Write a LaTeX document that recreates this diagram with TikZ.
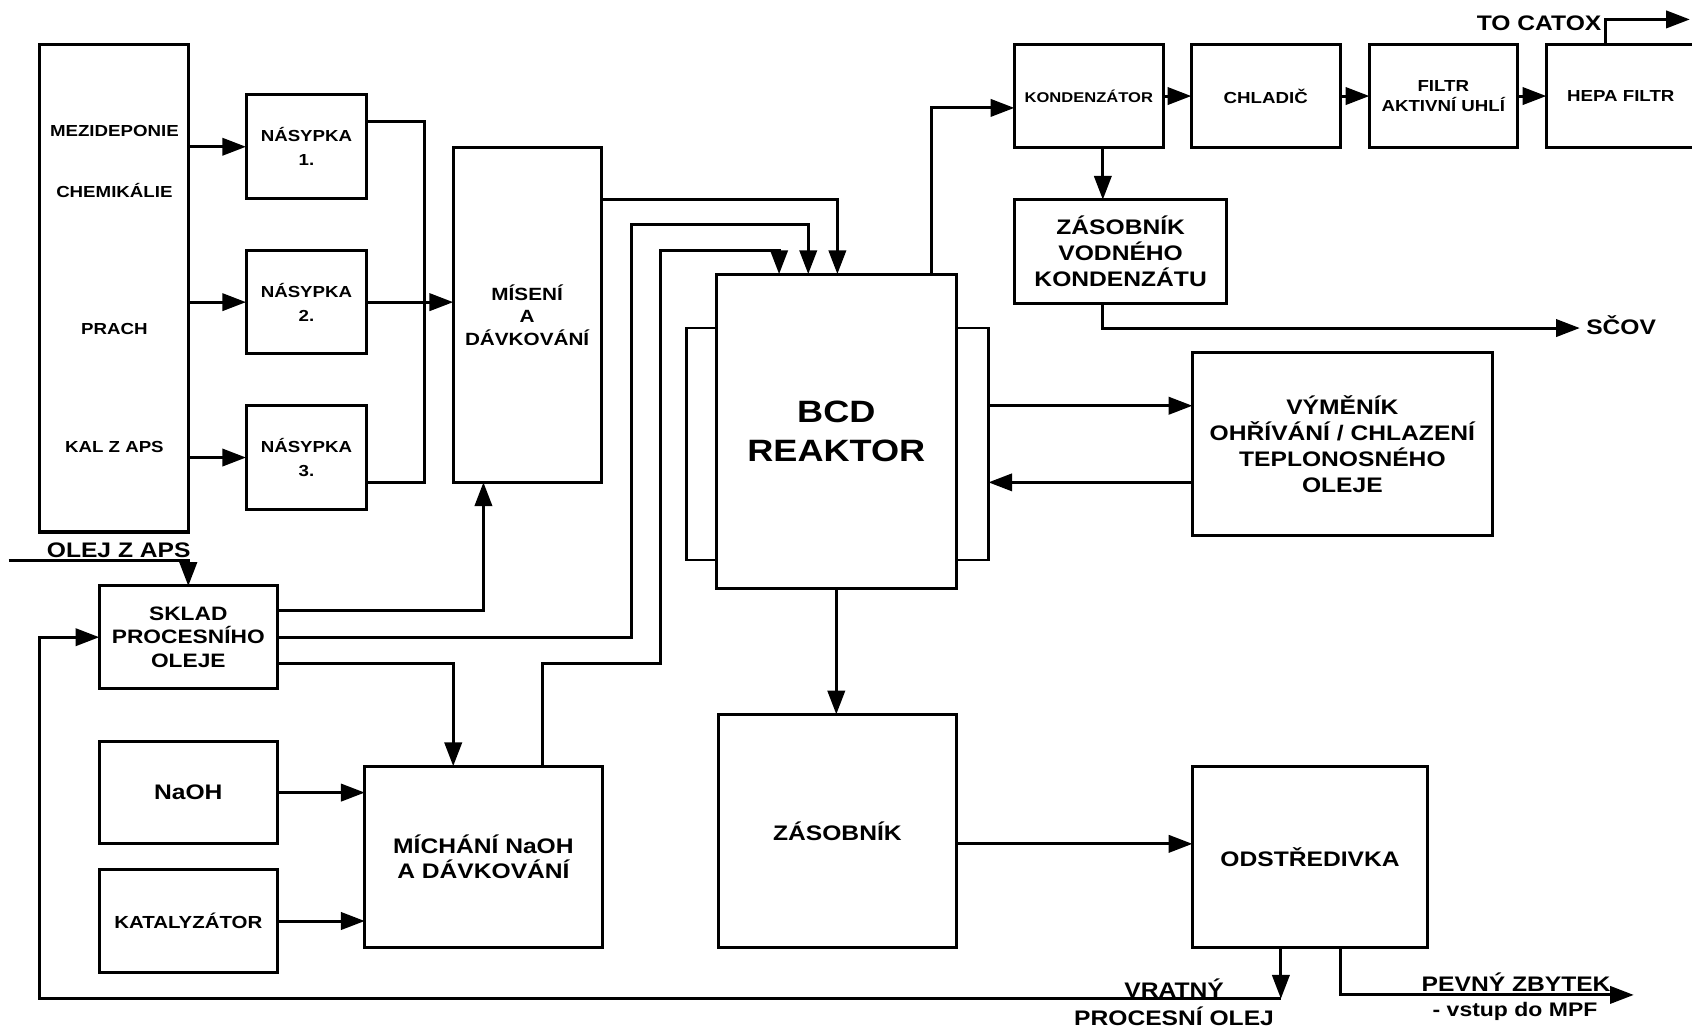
\documentclass[tikz,border=0pt]{standalone}
\usepackage{fontspec}
\newfontfamily\dfont{Liberation Sans}[FakeStretch=1.17]
\usetikzlibrary{arrows.meta}
\newcommand\setfs[2]{\fontsize{#1}{#2}\selectfont}
\tikzset{
  box/.style={draw, line width=2.8pt, inner sep=0pt, outer sep=0pt, align=center, text=black},
  jack/.style={draw, line width=2.6pt, inner sep=0pt, outer sep=0pt},
  lbl/.style={inner sep=0pt, outer sep=0pt, text=black},
  fsS/.style={font=\dfont\bfseries\setfs{14.8}{22}},
  fsF/.style={font=\dfont\bfseries\setfs{14.8}{19}},
  fsK/.style={font=\dfont\bfseries\setfs{13.1}{16}},
  fsM/.style={font=\dfont\bfseries\setfs{16.4}{21}},
  fsT/.style={font=\dfont\bfseries\setfs{16.2}{20}},
  fsSK/.style={font=\dfont\bfseries\setfs{18}{22}},
  fsL/.style={font=\dfont\bfseries\setfs{19.5}{24}},
  fsV/.style={font=\dfont\bfseries\setfs{18.2}{22}},
  fsB/.style={font=\dfont\bfseries\setfs{28.6}{36}},
  ln/.style={line width=2.8pt},
  arr/.style={line width=2.8pt, -{Triangle[length=22pt,width=16pt]}},
}
\begin{document}
\begin{tikzpicture}[x=1pt, y=-1pt]
\path[fill=white] (0,0) rectangle (1568,951);
\useasboundingbox (0,0) rectangle (1568,951);

% left column
\node[box, minimum width=138pt, minimum height=452pt] (src) at (106,267) {};
\node[lbl, fsS, anchor=base] (tmez) at (106,126.8) {MEZIDEPONIE};
\node[lbl, fsS, anchor=base] (tchem) at (106,182.8) {CHEMIKÁLIE};
\node[lbl, fsS, anchor=base] (tprach) at (106,309.8) {PRACH};
\node[lbl, fsS, anchor=base] (tkal) at (106,419.3) {KAL Z APS};

\node[box, fsS, minimum width=112pt, minimum height=96pt] (n1) at (284,136) {NÁSYPKA\\1.};
\node[box, fsS, minimum width=112pt, minimum height=96pt] (n2) at (284,280) {NÁSYPKA\\2.};
\node[box, fsS, minimum width=112pt, minimum height=96pt] (n3) at (284,424) {NÁSYPKA\\3.};

\node[box, fsM, minimum width=137pt, minimum height=310pt] (mis) at (488.5,292) {MÍSENÍ\\A\\DÁVKOVÁNÍ};

\node[box, fsSK, minimum width=165pt, minimum height=95pt] (sklad) at (174.5,590.5) {SKLAD\\PROCESNÍHO\\OLEJE};
\node[box, fsL, minimum width=165pt, minimum height=95pt] (naoh) at (174.5,734.5) {NaOH};
\node[box, fsT, minimum width=165pt, minimum height=95pt] (kat) at (174.5,853.5) {KATALYZÁTOR};
\node[box, fsL, minimum width=220pt, minimum height=168pt] (mich) at (448,794) {MÍCHÁNÍ NaOH\\A DÁVKOVÁNÍ};

% reactor
\node[jack, minimum width=28pt, minimum height=215pt] (jl) at (650,411.5) {};
\node[jack, minimum width=30pt, minimum height=215pt] (jr) at (901,411.5) {};
\node[box, fsB, fill=white, minimum width=222pt, minimum height=291pt] (reak) at (775,399.5) {BCD\\REAKTOR};

\node[box, fsL, minimum width=220pt, minimum height=216pt] (zas) at (776,770) {ZÁSOBNÍK};
\node[box, fsL, minimum width=218pt, minimum height=168pt] (ods) at (1214,794) {ODSTŘEDIVKA};
\node[box, fsL, minimum width=278pt, minimum height=169pt] (vym) at (1244,411.5) {VÝMĚNÍK\\OHŘÍVÁNÍ / CHLAZENÍ\\TEPLONOSNÉHO\\OLEJE};

% top chain
\node[box, fsK, minimum width=138pt, minimum height=96pt] (kon) at (1009,89) {KONDENZÁTOR};
\node[box, fsS, minimum width=138pt, minimum height=96pt] (chl) at (1173,89) {CHLADIČ};
\node[box, fsF, minimum width=137pt, minimum height=96pt] (fil) at (1337.5,89) {FILTR\\AKTIVNÍ UHLÍ};
\node[box, fsS, minimum width=138pt, minimum height=96pt] (hepa) at (1502,89) {HEPA FILTR};
\node[box, fsL, minimum width=197pt, minimum height=96pt] (zvk) at (1038.5,233) {ZÁSOBNÍK\\VODNÉHO\\KONDENZÁTU};

% free labels
\node[lbl, fsL, anchor=base east] (tcat) at (1484,28) {TO CATOX};
\node[lbl, fsL, anchor=base west] (tscov) at (1470,310) {SČOV};
\node[lbl, fsL, anchor=base] (tolej) at (110,517) {OLEJ Z APS};
\node[lbl, fsL, anchor=base] (tvrat) at (1088,924) {VRATNÝ};
\node[lbl, fsL, anchor=base] (tproc) at (1088,950) {PROCESNÍ OLEJ};
\node[lbl, fsL, anchor=base] (tpev) at (1405,919) {PEVNÝ ZBYTEK};
\node[lbl, fsV, anchor=base] (tvst) at (1404,942) {- vstup do MPF};

% helper points
\coordinate (bus) at (393,280);
\coordinate (olejin) at (8,519);
\coordinate (ret) at (1187,925.5);
\coordinate (retc) at (37,925.5);
\coordinate (pevne) at (1514,922);
\coordinate (scovp) at (1464,304);
\coordinate (catoxp) at (1566,18);
\coordinate (b1) at (585,208);
\coordinate (c1) at (612,615);
\coordinate (c2) at (722,232);

% connectors
\draw[arr] (n1.west -| src.east) -- (n1.west);
\draw[arr] (n2.west -| src.east) -- (n2.west);
\draw[arr] (n3.west -| src.east) -- (n3.west);
\draw[ln] ([yshift=23pt]n1.east) -| (bus);
\draw[ln] ([yshift=-23pt]n3.east) -| (bus);
\draw[arr] (n2.east) -- (n2.east -| mis.west);

\draw[arr] ([yshift=107.5pt]mis.east) -| ([xshift=1pt]reak.north);
\draw[arr] ([yshift=24.5pt]sklad.east) -| ([xshift=-40.5pt]mis.south);
\draw[arr] (sklad.east) -| (b1) -| ([xshift=-26pt]reak.north);
\draw[arr] ([yshift=-24.5pt]sklad.east) -| ([xshift=-28pt]mich.north);
\draw[arr] ([xshift=54.5pt]mich.north) |- (c1) |- (c2) -- ([xshift=-53pt]reak.north);
\draw[arr] (naoh.east) -- (naoh.east -| mich.west);
\draw[arr] (kat.east) -- (kat.east -| mich.west);
\draw[arr] (olejin) -| (sklad.north);

\draw[arr] (reak.south) -- (reak.south |- zas.north);
\draw[arr] ([yshift=-12pt]zas.east) -- ([yshift=-12pt]zas.east -| ods.west);
\draw[arr] ([yshift=35.5pt]jr.east) -- ([yshift=35.5pt]jr.east -| vym.west);
\draw[arr] ([yshift=-35.5pt]vym.west) -- ([yshift=-35.5pt]vym.west -| jr.east);

\draw[arr] ([xshift=-27pt]ods.south) -- (ret);
\draw[arr] (ret) -- (retc) |- (sklad.west);
\draw[arr] ([xshift=28pt]ods.south) |- (pevne);

\draw[arr] ([xshift=88pt]reak.north) |- ([yshift=-11pt]kon.west);
\draw[arr] (kon.east) -- (chl.west);
\draw[arr] (chl.east) -- (fil.west);
\draw[arr] (fil.east) -- (hepa.west);
\draw[arr] ([xshift=13pt]kon.south) -- ([xshift=13pt]kon.south |- zvk.north);
\draw[arr] ([xshift=-16.5pt]zvk.south) |- (scovp);
\draw[arr] ([xshift=-14.5pt]hepa.north) |- (catoxp);
\end{tikzpicture}
\end{document}
